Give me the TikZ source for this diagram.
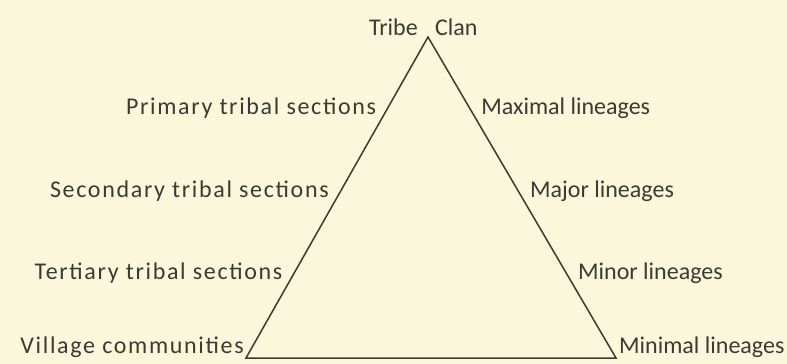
\documentclass[tikz,border=0pt]{standalone}
\usepackage{fontspec}
\setmainfont{Carlito}
\newfontfamily\spacedfont[LetterSpace=7]{Carlito}
\usepackage{tikz}
\definecolor{paper}{HTML}{FBF7DA}
\definecolor{ink}{HTML}{3B3A33}

\begin{document}
\begin{tikzpicture}[
        x=1pt, y=-1pt,
        edge/.style={draw=ink, line width=1.5pt},
        lbl/.style={font=\fontsize{24}{28}\selectfont, text=ink, inner sep=0pt},
        lft/.style={lbl, font=\spacedfont\fontsize{24}{28}\selectfont, anchor=base east, xshift=-8pt},
        rgt/.style={lbl, anchor=base west, xshift=8pt}
    ]
    \fill[paper] (0,0) rectangle (787,364);
    \useasboundingbox (0,0) rectangle (787,364);

    % TRIANGLE
    \coordinate (top) at (428,37);
    \coordinate (vl) at (246,358);
    \coordinate (vr) at (616,358);
    \draw[edge] (top) -- (vl) -- (vr) -- cycle;

    % APEX
    \node[lbl, anchor=base east, xshift=-10pt, yshift=2pt] (tribe) at (top) {Tribe};
    \node[lbl, anchor=base west, xshift=7pt, yshift=2pt] (clan) at (top) {Clan};

    % LEFT SIDE
    \path (top) -- node[lft, pos=0.24] (prim) {Primary tribal sections}
        node[lft, pos=0.50] (sec) {Secondary tribal sections}
        node[lft, pos=0.755] (tert) {Tertiary tribal sections} (vl);
    \node[lft, xshift=6pt, yshift=5pt] (vill) at (vl) {Village communities};

    % RIGHT SIDE
    \path (top) -- node[rgt, pos=0.24] (maxl) {Maximal lineages}
        node[rgt, pos=0.50] (majl) {Major lineages}
        node[rgt, pos=0.755] (minl) {Minor lineages} (vr);
    \node[lbl, anchor=base west, xshift=3pt, yshift=5pt] (minml) at (vr) {Minimal lineages};
\end{tikzpicture}
\end{document}
